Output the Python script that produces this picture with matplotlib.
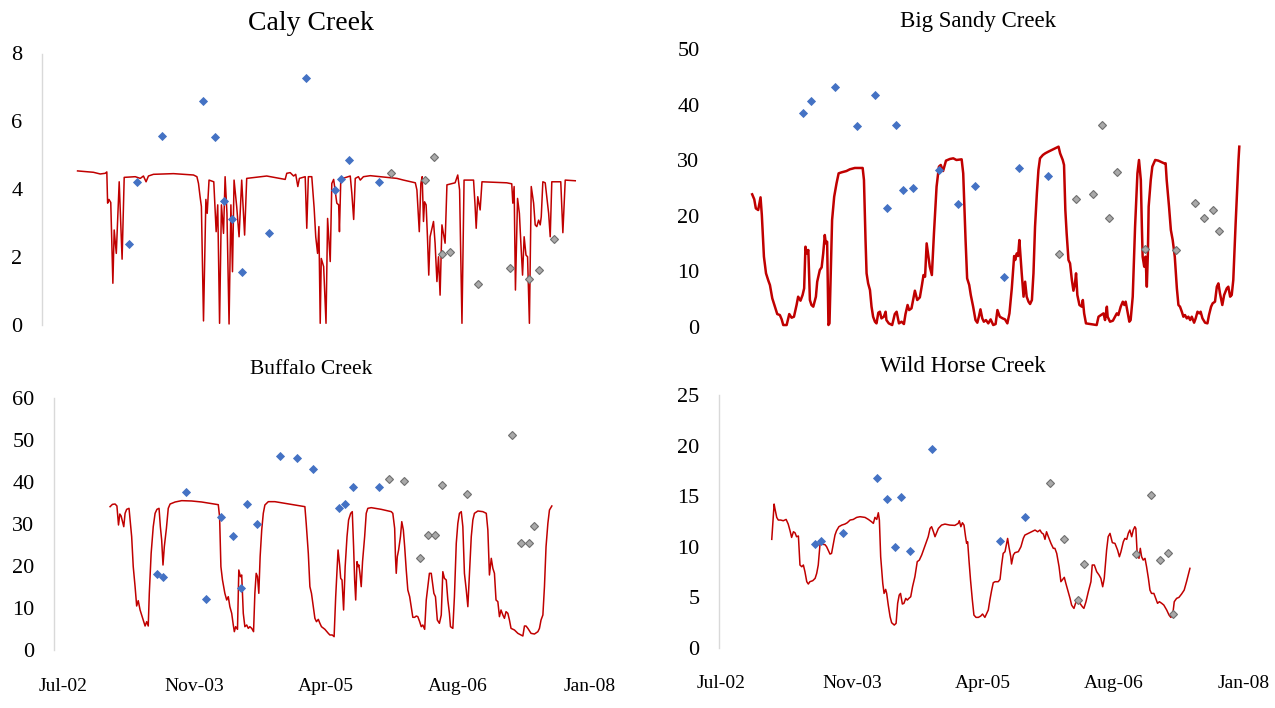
import numpy as np
import pandas as pd
import matplotlib
matplotlib.use("Agg")
import matplotlib.pyplot as plt
import matplotlib.dates as mdates

plt.rcParams['font.family'] = ['Liberation Serif', 'DejaVu Serif']

# --- data: Excel date serials and measured values ---------------------------

# Caly Creek
caly_line_days = [
    37505, 37565, 37591, 37610, 37616, 37619, 37624, 37631, 37639, 37644,
    37652, 37663, 37674, 37682, 37724, 37743, 37755, 37765, 37774, 37793,
    37869, 37945, 37958, 37964, 37970, 37975, 37983, 37992, 37997, 38004,
    38022, 38031, 38037, 38044, 38051, 38059, 38065, 38072, 38080, 38087,
    38093, 38099, 38109, 38118, 38128, 38139, 38147, 38223, 38293, 38299,
    38312, 38325, 38333, 38341, 38347, 38369, 38375, 38381, 38394, 38403,
    38409, 38416, 38421, 38426, 38430, 38439, 38448, 38454, 38464, 38470,
    38477, 38483, 38489, 38496, 38499, 38504, 38512, 38540, 38546, 38553,
    38559, 38571, 38578, 38590, 38616, 38717, 38742, 38787, 38793, 38802,
    38808, 38813, 38818, 38822, 38828, 38833, 38838, 38843, 38856, 38862,
    38869, 38875, 38881, 38888, 38900, 38907, 38938, 38948, 38955, 38964,
    38972, 39008, 39014, 39018, 39024, 39033, 39040, 39134, 39153, 39157,
    39162, 39167, 39175, 39182, 39187, 39194, 39200, 39207, 39213, 39220,
    39227, 39236, 39242, 39248, 39255, 39261, 39265, 39271, 39280, 39293,
    39299, 39305, 39339, 39347, 39356, 39394]
caly_line_vals = [
    4.54, 4.50, 4.45, 4.47, 4.51, 3.59, 3.70, 3.61, 1.23, 2.80,
    2.11, 4.22, 1.94, 4.35, 4.37, 4.32, 4.39, 4.22, 4.39, 4.44,
    4.46, 4.42, 4.37, 4.17, 3.78, 3.49, 0.12, 3.70, 3.29, 4.27,
    4.22, 2.75, 3.54, 0.05, 3.54, 2.70, 4.37, 3.29, 0.03, 3.54,
    1.57, 4.27, 3.49, 2.60, 4.27, 2.65, 4.32, 4.39, 4.29, 4.47,
    4.49, 4.39, 4.44, 4.08, 4.32, 4.37, 2.85, 4.37, 4.37, 3.44,
    2.60, 2.11, 2.90, 0.05, 1.96, 1.72, 0.05, 3.14, 1.87, 4.17,
    4.29, 3.93, 3.59, 3.54, 2.75, 4.27, 4.32, 4.39, 3.88, 3.11,
    4.32, 4.37, 4.27, 4.37, 4.40, 4.32, 4.27, 4.19, 3.98, 2.75,
    4.17, 4.37, 3.05, 3.63, 3.54, 2.60, 1.47, 2.60, 3.05, 2.41,
    1.28, 2.01, 0.88, 2.95, 2.41, 4.13, 4.19, 4.42, 3.98, 0.05,
    4.27, 4.27, 3.49, 2.85, 3.78, 3.39, 4.22, 4.19, 4.16, 3.59,
    4.08, 1.03, 3.73, 3.29, 2.50, 1.47, 2.60, 2.06, 2.01, 0.05,
    4.08, 3.59, 2.95, 2.90, 3.09, 2.95, 3.19, 4.22, 4.19, 3.29,
    2.60, 4.22, 4.22, 2.72, 4.27, 4.25]
caly_s1_days = [37702, 37730, 37825, 37980, 38028, 38062, 38092, 38128,
                38231, 38371, 38482, 38505, 38537, 38649]
caly_s1_vals = [2.40, 4.22, 5.58, 6.60, 5.55, 3.64, 3.11, 1.57,
                2.71, 7.28, 3.97, 4.29, 4.87, 4.22]
caly_s2_days = [38694, 38825, 38858, 38887, 38918, 39026, 39147, 39217, 39255, 39315]
caly_s2_vals = [4.47, 4.28, 4.96, 2.08, 2.14, 1.22, 1.69, 1.36, 1.62, 2.54]

# Big Sandy Creek
sandy_line_days = [
    37567, 37575, 37581, 37590, 37599, 37604, 37612, 37620, 37629, 37635,
    37644, 37654, 37663, 37673, 37680, 37686, 37699, 37709, 37718, 37727,
    37737, 37743, 37752, 37760, 37766, 37771, 37776, 37782, 37788, 37794,
    37801, 37811, 37816, 37826, 37833, 37839, 37845, 37849, 37854, 37859,
    37863, 37868, 37873, 37881, 37890, 37898, 37909, 37928, 37941, 37960,
    37990, 37995, 38001, 38005, 38011, 38018, 38024, 38030, 38037, 38043,
    38050, 38056, 38062, 38071, 38078, 38081, 38090, 38103, 38113, 38120,
    38129, 38139, 38148, 38154, 38162, 38168, 38177, 38190, 38199, 38209,
    38217, 38223, 38229, 38235, 38241, 38247, 38255, 38263, 38273, 38282,
    38289, 38298, 38309, 38324, 38337, 38349, 38369, 38375, 38384, 38390,
    38398, 38404, 38413, 38422, 38429, 38435, 38441, 38448, 38454, 38462,
    38471, 38480, 38490, 38499, 38506, 38515, 38526, 38535, 38544, 38552,
    38561, 38570, 38574, 38580, 38585, 38590, 38599, 38606, 38612, 38618,
    38625, 38631, 38638, 38644, 38650, 38657, 38663, 38669, 38680, 38689,
    38701, 38714, 38727, 38740, 38746, 38756, 38761, 38766, 38771, 38778,
    38784, 38791, 38797, 38803, 38807, 38812, 38820, 38829, 38833, 38838,
    38845, 38861, 38886, 38893, 38912, 38918, 38925, 38928, 38937, 38948,
    38963, 38969, 38978, 38986, 38992, 38997, 39005, 39011, 39016, 39024,
    39033, 39042, 39048, 39055, 39059, 39062, 39068, 39073, 39078, 39082,
    39085, 39093, 39099, 39110, 39122, 39144, 39150, 39154, 39163, 39170,
    39177, 39185, 39193, 39199, 39205, 39212, 39218, 39224, 39231, 39237,
    39244, 39250, 39259, 39265, 39272, 39279, 39284, 39291, 39301, 39310,
    39316, 39324, 39330, 39339, 39346, 39352, 39358, 39367, 39374, 39384,
    39390, 39397, 39403, 39409, 39418, 39429, 39432]
sandy_line_vals = [
    23.86, 22.96, 21.33, 21.03, 23.32, 20.13, 12.62, 9.62, 8.29, 7.51,
    5.11, 3.61, 2.28, 2.10, 1.32, 0.30, 0.30, 2.28, 1.62, 1.80,
    3.91, 5.41, 4.69, 5.71, 6.91, 14.42, 13.22, 13.82, 4.81, 3.91,
    3.61, 5.41, 8.11, 10.22, 10.70, 13.22, 16.53, 15.02, 15.32, 0.30,
    0.60, 9.62, 19.23, 23.44, 25.84, 27.64, 27.82, 28.06, 28.37, 28.61,
    28.61, 26.44, 15.62, 9.62, 7.81, 6.61, 3.61, 1.80, 0.90, 0.60,
    2.52, 2.70, 1.50, 1.80, 2.70, 1.20, 0.60, 0.30, 2.28, 2.70,
    0.60, 0.90, 0.48, 2.28, 3.91, 3.00, 3.31, 6.49, 4.81, 5.29,
    7.51, 9.31, 9.01, 15.02, 12.92, 10.82, 9.31, 16.83, 25.24, 28.85,
    29.15, 28.06, 29.93, 30.23, 30.35, 30.05, 30.17, 27.64, 15.62, 8.71,
    7.51, 5.71, 3.61, 1.20, 0.72, 1.80, 3.13, 1.50, 0.90, 1.20,
    0.60, 1.32, 0.30, 0.48, 3.00, 1.80, 1.50, 1.32, 0.60, 2.40,
    6.91, 12.74, 12.02, 13.22, 12.74, 15.62, 9.62, 5.41, 8.11, 5.41,
    4.51, 4.09, 4.81, 9.62, 18.03, 24.04, 28.25, 30.35, 30.95, 31.25,
    31.55, 31.85, 32.15, 32.45, 31.25, 30.05, 29.15, 21.03, 16.83, 12.02,
    11.42, 8.41, 6.49, 7.81, 9.62, 5.71, 3.91, 3.61, 4.81, 2.40,
    0.60, 0.48, 0.30, 1.80, 2.40, 1.20, 3.61, 1.80, 0.90, 1.08,
    2.40, 2.10, 3.61, 4.51, 3.91, 4.51, 2.40, 0.90, 1.20, 5.41,
    18.03, 27.64, 30.05, 26.44, 18.03, 12.62, 10.82, 12.62, 7.21, 13.22,
    21.63, 26.44, 28.85, 30.05, 29.93, 29.45, 29.45, 26.44, 21.63, 17.43,
    15.62, 12.62, 6.91, 3.91, 3.61, 2.70, 1.80, 2.10, 1.50, 1.80,
    1.20, 1.80, 0.72, 1.50, 2.70, 2.40, 2.70, 1.50, 0.72, 0.60,
    2.10, 3.61, 4.21, 4.51, 7.21, 7.81, 6.01, 3.91, 5.71, 6.91,
    7.21, 5.41, 5.71, 8.41, 18.63, 30.05, 32.45]
sandy_s1_days = [37762, 37791, 37884, 37967, 38037, 38083, 38119, 38146,
                 38184, 38284, 38355, 38421, 38532, 38588, 38700]
sandy_s1_vals = [38.47, 40.74, 43.16, 36.13, 41.82, 21.35, 36.42, 24.70,
                 24.95, 28.30, 22.07, 25.37, 8.91, 28.56, 27.17]
sandy_s2_days = [38743, 38807, 38873, 38905, 38935, 38964, 39071, 39191,
                 39262, 39297, 39333, 39354]
sandy_s2_vals = [13.16, 22.97, 23.87, 36.36, 19.54, 27.94, 14.06, 13.83,
                 22.25, 19.54, 21.09, 17.25]

# Buffalo Creek
buff_line_days = [
    37629, 37638, 37648, 37655, 37661, 37666, 37671, 37681, 37686, 37692,
    37701, 37711, 37717, 37724, 37730, 37736, 37743, 37749, 37755, 37762,
    37768, 37774, 37778, 37785, 37793, 37800, 37807, 37815, 37820, 37825,
    37830, 37835, 37843, 37850, 37857, 37876, 37901, 37939, 37977, 38008,
    38040, 38045, 38050, 38056, 38065, 38072, 38078, 38084, 38091, 38097,
    38101, 38106, 38113, 38118, 38124, 38129, 38135, 38141, 38148, 38154,
    38160, 38167, 38174, 38179, 38184, 38189, 38194, 38199, 38205, 38211,
    38217, 38230, 38255, 38293, 38331, 38369, 38374, 38382, 38388, 38394,
    38401, 38407, 38413, 38420, 38426, 38432, 38445, 38458, 38464, 38473,
    38480, 38486, 38495, 38501, 38505, 38510, 38516, 38522, 38529, 38535,
    38543, 38549, 38554, 38558, 38562, 38567, 38571, 38574, 38578, 38583,
    38588, 38596, 38602, 38608, 38621, 38659, 38697, 38703, 38710, 38713,
    38716, 38720, 38725, 38732, 38737, 38743, 38748, 38754, 38760, 38767,
    38773, 38779, 38786, 38792, 38798, 38805, 38811, 38817, 38824, 38830,
    38836, 38842, 38849, 38859, 38865, 38872, 38880, 38887, 38893, 38899,
    38906, 38912, 38918, 38922, 38931, 38937, 38944, 38950, 38956, 38963,
    38969, 38975, 38982, 38988, 38994, 39001, 39007, 39013, 39026, 39045,
    39058, 39064, 39070, 39077, 39083, 39089, 39095, 39102, 39108, 39114,
    39121, 39127, 39133, 39140, 39146, 39152, 39165, 39178, 39190, 39197,
    39203, 39209, 39216, 39228, 39241, 39254, 39260, 39266, 39273, 39279,
    39285, 39292, 39298, 39307]
buff_line_vals = [
    34.17, 34.72, 34.80, 34.33, 29.80, 32.42, 31.94, 29.40, 32.58, 33.53,
    33.77, 27.02, 19.86, 15.10, 10.49, 11.76, 9.54, 8.34, 7.15, 5.72,
    6.75, 5.72, 13.51, 23.04, 29.40, 32.58, 33.53, 33.77, 29.40, 26.22,
    20.26, 24.63, 29.00, 33.77, 34.80, 35.28, 35.60, 35.52, 35.28, 34.96,
    34.64, 31.78, 19.86, 16.69, 13.51, 11.92, 12.71, 10.33, 8.74, 5.96,
    4.37, 5.56, 4.93, 19.07, 17.48, 17.88, 8.74, 5.56, 5.96, 5.16,
    5.56, 5.16, 4.37, 13.51, 18.28, 17.48, 13.51, 22.25, 28.61, 32.58,
    34.56, 35.36, 35.36, 34.96, 34.56, 34.17, 30.19, 23.04, 15.10, 13.51,
    10.33, 7.55, 6.75, 7.31, 6.36, 5.56, 4.93, 3.97, 3.58, 3.58,
    3.18, 12.71, 23.84, 20.26, 17.08, 16.69, 9.54, 19.87, 27.02, 30.99,
    32.58, 32.98, 24.63, 16.69, 11.92, 21.06, 19.87, 20.26, 18.28, 15.10,
    21.06, 27.02, 32.58, 33.77, 33.93, 33.53, 32.98, 32.58, 29.00, 22.25,
    18.28, 22.25, 23.84, 27.02, 30.59, 28.61, 24.63, 19.07, 14.30, 12.71,
    10.33, 7.79, 7.79, 8.10, 7.95, 6.75, 5.56, 5.96, 4.93, 11.92,
    15.10, 18.28, 18.28, 13.51, 12.71, 7.15, 6.36, 8.34, 18.67, 17.08,
    16.69, 11.92, 8.74, 5.56, 5.16, 12.71, 25.43, 30.19, 32.58, 32.98,
    29.40, 18.28, 14.30, 10.33, 18.28, 27.02, 30.99, 32.58, 33.13, 32.98,
    32.58, 28.61, 17.88, 21.85, 19.47, 18.28, 11.92, 11.52, 7.95, 9.54,
    8.34, 7.55, 9.14, 8.74, 7.15, 5.16, 4.77, 3.97, 3.58, 3.34,
    5.72, 5.72, 5.16, 3.97, 3.81, 4.37, 5.16, 7.15, 8.34, 15.10,
    24.63, 30.19, 33.37, 34.33]
buff_s1_days = [37806, 37831, 37916, 37992, 38052, 38096, 38127, 38151,
                38186, 38276, 38339, 38400, 38500, 38523, 38551, 38649]
buff_s1_vals = [18.12, 17.47, 37.59, 12.16, 31.70, 27.10, 14.71, 34.73,
                29.96, 46.17, 45.84, 43.08, 33.92, 34.80, 38.78, 38.78]
buff_s2_days = [38690, 38745, 38806, 38835, 38862, 38888, 38986, 39155,
                39189, 39220, 39240]
buff_s2_vals = [40.76, 40.29, 21.93, 27.49, 27.49, 39.26, 37.26, 51.18,
                25.44, 25.44, 29.56]

# Wild Horse Creek
horse_line_days = [
    37642, 37651, 37654, 37661, 37667, 37676, 37686, 37697, 37705, 37712,
    37718, 37725, 37731, 37737, 37744, 37750, 37757, 37763, 37769, 37776,
    37782, 37788, 37799, 37808, 37814, 37820, 37827, 37833, 37846, 37852,
    37859, 37865, 37871, 37878, 37884, 37890, 37899, 37910, 37922, 37931,
    37942, 37954, 37967, 37980, 37999, 38012, 38024, 38031, 38037, 38044,
    38050, 38054, 38059, 38067, 38072, 38078, 38082, 38088, 38095, 38101,
    38111, 38118, 38124, 38130, 38135, 38142, 38148, 38155, 38161, 38167,
    38174, 38181, 38190, 38199, 38207, 38216, 38225, 38232, 38241, 38248,
    38254, 38261, 38267, 38273, 38280, 38292, 38305, 38324, 38343, 38356,
    38360, 38366, 38372, 38378, 38384, 38388, 38392, 38397, 38403, 38410,
    38416, 38424, 38433, 38442, 38449, 38458, 38471, 38477, 38484, 38490,
    38497, 38509, 38516, 38522, 38528, 38535, 38541, 38545, 38550, 38557,
    38560, 38567, 38573, 38586, 38596, 38605, 38611, 38624, 38637, 38650,
    38660, 38669, 38675, 38682, 38688, 38694, 38701, 38711, 38720, 38726,
    38733, 38742, 38749, 38754, 38762, 38768, 38777, 38784, 38790, 38794,
    38799, 38805, 38813, 38822, 38831, 38837, 38845, 38854, 38864, 38869,
    38877, 38886, 38895, 38902, 38909, 38915, 38924, 38930, 38937, 38946,
    38956, 38966, 38973, 38979, 38988, 38994, 39001, 39007, 39013, 39020,
    39026, 39032, 39036, 39041, 39048, 39053, 39058, 39064, 39071, 39077,
    39084, 39090, 39096, 39105, 39112, 39119, 39126, 39135, 39143, 39154,
    39163, 39170, 39177, 39183, 39192, 39201, 39211, 39221, 39230, 39243]
horse_line_vals = [
    10.72, 14.21, 13.78, 12.89, 12.63, 12.63, 12.56, 12.69, 12.23, 11.57,
    10.91, 11.47, 11.37, 10.98, 11.05, 8.18, 8.01, 8.18, 7.52, 6.53,
    6.30, 6.53, 6.63, 6.86, 7.35, 8.18, 10.32, 10.25, 10.19, 9.99,
    9.59, 9.26, 9.33, 10.32, 11.14, 11.57, 11.97, 12.13, 12.23, 12.36,
    12.63, 12.69, 12.89, 12.96, 12.89, 12.69, 12.46, 12.30, 12.89, 12.69,
    13.35, 12.63, 9.00, 6.36, 5.37, 5.77, 5.37, 4.22, 3.07, 2.47,
    2.24, 2.41, 4.39, 5.21, 5.37, 4.32, 4.39, 4.88, 4.71, 4.88,
    5.04, 6.03, 7.02, 8.51, 8.67, 9.17, 9.83, 10.32, 10.98, 11.80,
    11.97, 11.47, 10.98, 11.37, 11.80, 12.13, 12.23, 12.13, 12.10, 12.30,
    12.56, 11.97, 12.36, 12.13, 10.98, 10.32, 10.48, 8.67, 6.69, 4.71,
    3.23, 3.00, 3.00, 3.13, 3.33, 3.00, 3.73, 4.71, 5.70, 6.43,
    6.53, 6.53, 6.76, 8.18, 9.33, 9.50, 10.32, 10.81, 9.99, 9.00,
    8.28, 9.17, 9.40, 9.50, 9.99, 10.81, 11.14, 11.31, 11.47, 11.64,
    11.47, 11.64, 11.37, 11.24, 10.72, 11.47, 10.98, 10.32, 9.83, 9.83,
    9.33, 8.01, 6.53, 6.69, 6.96, 6.36, 5.54, 4.88, 4.22, 4.06,
    3.89, 4.39, 4.71, 4.39, 4.06, 3.89, 4.55, 5.54, 6.53, 8.18,
    8.18, 7.52, 7.19, 6.86, 6.03, 6.86, 9.66, 10.98, 11.31, 10.39,
    10.32, 9.66, 9.00, 9.50, 10.48, 10.81, 10.72, 11.31, 11.64, 10.98,
    11.64, 11.97, 11.80, 9.33, 8.84, 9.83, 9.00, 8.67, 8.84, 8.01,
    6.86, 5.70, 5.37, 5.37, 4.88, 4.39, 4.55, 4.39, 4.22, 3.73,
    3.23, 3.00, 3.23, 4.55, 4.88, 4.98, 5.31, 5.70, 6.53, 7.85]
horse_s1_days = [37808, 37832, 37914, 38044, 38084, 38115, 38138, 38171,
                 38257, 38516, 38613]
horse_s1_vals = [10.23, 10.58, 11.32, 16.79, 14.68, 9.99, 14.88, 9.54,
                 19.62, 10.58, 12.93]
horse_s2_days = [38706, 38762, 38815, 38839, 39036, 39095, 39129, 39158, 39177]
horse_s2_vals = [16.26, 10.72, 4.72, 8.25, 9.27, 15.10, 8.64, 9.40, 3.33]

date_ticks = [37450, 37950, 38450, 38950, 39450]


def xl_dates(serials):
    return pd.to_datetime(np.asarray(serials), unit='D', origin='1899-12-30')


# --- figure -----------------------------------------------------------------
W, H = 1275, 708
fig = plt.figure(figsize=(W / 100, H / 100), dpi=100)
fig.patch.set_facecolor('white')

RED = '#C00000'
BLUE = '#4472C4'

panels = [
    dict(title='Caly Creek', title_pos=(311, 30), title_size=20,
         box=(42, 53.5, 590, 325), xlim=(37370, 39450),
         ylim=8, ystep=2, lw=1.1, dates=False, spine=True,
         line=(caly_line_days, caly_line_vals),
         s1=(caly_s1_days, caly_s1_vals), s2=(caly_s2_days, caly_s2_vals)),
    dict(title='Big Sandy Creek', title_pos=(978, 26.5), title_size=16.5,
         box=(719, 49.3, 1250, 326.7), xlim=(37440, 39473),
         ylim=50, ystep=10, lw=1.8, dates=False, spine=False,
         line=(sandy_line_days, sandy_line_vals),
         s1=(sandy_s1_days, sandy_s1_vals), s2=(sandy_s2_days, sandy_s2_vals)),
    dict(title='Buffalo Creek', title_pos=(311, 373.5), title_size=15.5,
         box=(54, 398.3, 590, 650), xlim=(37416, 39452),
         ylim=60, ystep=10, lw=1.1, dates=True, spine=True,
         line=(buff_line_days, buff_line_vals),
         s1=(buff_s1_days, buff_s1_vals), s2=(buff_s2_days, buff_s2_vals)),
    dict(title='Wild Horse Creek', title_pos=(963, 372), title_size=16.5,
         box=(719, 395, 1250, 647.7), xlim=(37440, 39473),
         ylim=25, ystep=5, lw=1.1, dates=True, spine=True,
         line=(horse_line_days, horse_line_vals),
         s1=(horse_s1_days, horse_s1_vals), s2=(horse_s2_days, horse_s2_vals)),
]

for p in panels:
    l, t, r, b = p['box']
    ax = fig.add_axes([l / W, 1 - b / H, (r - l) / W, (b - t) / H])

    ax.plot(xl_dates(p['line'][0]), p['line'][1], color=RED, lw=p['lw'],
            zorder=2, clip_on=False)
    ax.plot(xl_dates(p['s1'][0]), p['s1'][1], 'D', ms=3.9, mfc=BLUE,
            mec=BLUE, mew=0.6, zorder=3, clip_on=False)
    ax.plot(xl_dates(p['s2'][0]), p['s2'][1], 'D', ms=3.9, mfc='#A9A9A9',
            mec='#6F6F6F', mew=0.8, zorder=3, clip_on=False)

    ax.set_xlim(xl_dates(p['xlim']))
    ax.set_ylim(0, p['ylim'])
    ax.set_yticks(np.arange(0, p['ylim'] + 1, p['ystep']))

    if p['dates']:
        ax.set_xticks(xl_dates(date_ticks))
        ax.xaxis.set_major_formatter(mdates.DateFormatter('%b-%y'))
    else:
        ax.set_xticks([])

    for side in ['top', 'right', 'bottom']:
        ax.spines[side].set_visible(False)
    ax.spines['left'].set_visible(p['spine'])
    ax.spines['left'].set_color('#D9D9D9')
    ax.spines['left'].set_linewidth(1.0)

    ax.tick_params(axis='y', length=0, pad=14, labelsize=16)
    ax.tick_params(axis='x', length=0, pad=20, labelsize=14)
    ax.set_facecolor('none')

    tx, ty = p['title_pos']
    fig.text(tx / W, 1 - ty / H, p['title'], ha='center', va='baseline',
             fontsize=p['title_size'])

fig.savefig('out.png', dpi=100, facecolor='white')
